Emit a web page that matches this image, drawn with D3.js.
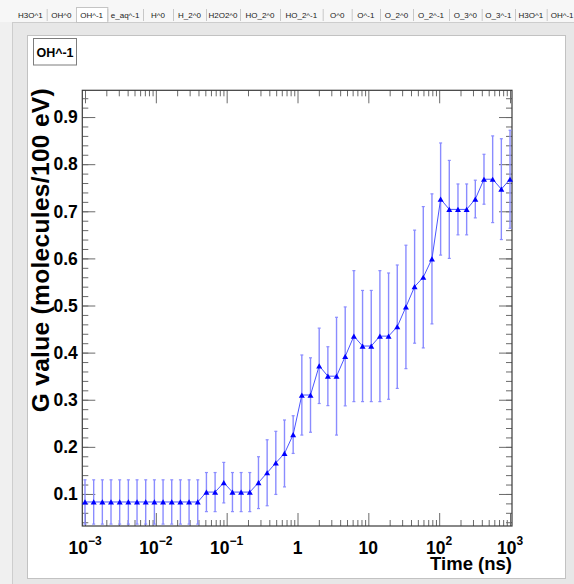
<!DOCTYPE html>
<html>
<head>
<meta charset="utf-8">
<script src="https://cdn.jsdelivr.net/npm/d3@7"></script>
<style>
  body { margin: 0; background: #efefef; }
  svg { display: block; }
</style>
</head>
<body>
<svg id="chart" width="574" height="584"></svg>
<script>
// ---- data -------------------------------------------------------------
const tabLabels = ["H3O^1", "OH^0", "OH^-1", "e_aq^-1", "H^0", "H_2^0", "H2O2^0",
  "HO_2^0", "HO_2^-1", "O^0", "O^-1", "O_2^0", "O_2^-1", "O_3^0", "O_3^-1", "H3O^1", "OH^-1"];
const selectedTab = 2;
const speciesLabel = "OH^-1";

// time points (ns)
const times = [
  0.001, 0.001326, 0.001758, 0.002330, 0.003089, 0.004095, 0.005429, 0.007197, 0.009541, 0.01265,
  0.01677, 0.02223, 0.02947, 0.03907, 0.05179, 0.06866, 0.09103, 0.1207, 0.1600, 0.2121,
  0.2812, 0.3728, 0.4942, 0.6551, 0.8685, 1.151, 1.526, 2.024, 2.683, 3.556,
  4.715, 6.251, 8.286, 10.99, 14.56, 19.31, 25.60, 33.93, 44.99, 59.64,
  79.06, 104.8, 138.9, 184.2, 244.2, 323.7, 429.1, 568.9, 754.3, 1000
];
// G value (molecules/100 eV)
const gValues = [
  0.083, 0.083, 0.083, 0.083, 0.083, 0.083, 0.083, 0.083, 0.083, 0.083,
  0.083, 0.083, 0.083, 0.083, 0.104, 0.104, 0.124, 0.104, 0.104, 0.104,
  0.124, 0.145, 0.166, 0.186, 0.226, 0.310, 0.310, 0.372, 0.350, 0.350,
  0.392, 0.435, 0.414, 0.414, 0.435, 0.435, 0.455, 0.497, 0.540, 0.560,
  0.599, 0.726, 0.704, 0.704, 0.704, 0.726, 0.768, 0.768, 0.747, 0.768
];
// symmetric uncertainties
const gErrors = [
  0.047, 0.047, 0.047, 0.047, 0.047, 0.047, 0.047, 0.047, 0.047, 0.047,
  0.047, 0.047, 0.047, 0.047, 0.0415, 0.0415, 0.043, 0.0415, 0.0415, 0.0415,
  0.055, 0.070, 0.067, 0.071, 0.040, 0.085, 0.079, 0.080, 0.0625, 0.125,
  0.105, 0.139, 0.118, 0.118, 0.139, 0.134, 0.131, 0.131, 0.120, 0.150,
  0.138, 0.119, 0.104, 0.054, 0.054, 0.040, 0.053, 0.092, 0.107, 0.104
];
const yMajorTicks = [0.1, 0.2, 0.3, 0.4, 0.5, 0.6, 0.7, 0.8, 0.9];
const yTickLabels = ["0.1", "0.2", "0.3", "0.4", "0.5", "0.6", "0.7", "0.8", "0.9"];
const xDecades = [-3, -2, -1, 0, 1, 2, 3];
const xTitle = "Time (ns)";
const yTitle = "G value (molecules/100 eV)";

// ---- layout -----------------------------------------------------------
const frame = { left: 82.3, right: 512, top: 90.3, bottom: 526 };
const svg = d3.select("#chart");
const FONT = "'Liberation Sans', Arial, Helvetica, sans-serif";

// window chrome: tab strip, grey panel, white canvas
svg.append("rect").attr("width", 574).attr("height", 584).attr("fill", "#f0f0f0");
svg.append("rect").attr("x", 0).attr("y", 0).attr("width", 574).attr("height", 22).attr("fill", "#f7f7f7");
svg.append("rect").attr("x", 12.5).attr("y", 22.5).attr("width", 570).attr("height", 570)
  .attr("fill", "#e7e7e7").attr("stroke", "#cdcdcd");

// tabs
const tabSeps = [14, 46.7, 76, 107.3, 143, 173, 206, 240, 280, 322.7, 351.7, 380, 413, 449, 481.7, 515, 546.7, 600];
const tabs = svg.append("g");
tabs.append("rect").attr("x", tabSeps[selectedTab] + 0.5).attr("y", 7.5)
  .attr("width", tabSeps[selectedTab + 1] - tabSeps[selectedTab]).attr("height", 15)
  .attr("fill", "#ffffff").attr("stroke", "#c4c4c4");
tabs.selectAll("line.sep").data(tabSeps.slice(1, -1)).join("line")
  .attr("class", "sep")
  .attr("x1", d => d + 0.5).attr("x2", d => d + 0.5)
  .attr("y1", 9).attr("y2", 21)
  .attr("stroke", "#c8c8c8");
tabs.selectAll("text").data(tabLabels).join("text")
  .attr("x", (d, i) => i === tabLabels.length - 1 ? tabSeps[i] + 4 : (tabSeps[i] + tabSeps[i + 1]) / 2)
  .attr("y", 17.8)
  .attr("text-anchor", (d, i) => i === tabLabels.length - 1 ? "start" : "middle")
  .attr("font-family", FONT).attr("font-size", 8).attr("fill", "#1a1a1a")
  .text(d => d);

// white canvas
svg.append("rect").attr("x", 27.5).attr("y", 35.5).attr("width", 538).attr("height", 543)
  .attr("fill", "#ffffff").attr("stroke", "#c2c2c2");

// legend box
svg.append("rect").attr("x", 33.5).attr("y", 38.5).attr("width", 43).attr("height", 26.5)
  .attr("fill", "#fff").attr("stroke", "#7d7d7d");
svg.append("text").attr("x", 55).attr("y", 56.5).attr("text-anchor", "middle")
  .attr("font-family", FONT).attr("font-weight", "bold").attr("font-size", 12.5)
  .attr("fill", "#000").text(speciesLabel);

// ---- scales -----------------------------------------------------------
const x = d3.scaleLog()
  .domain([Math.pow(10, -3.038), Math.pow(10, 3.028)])
  .range([frame.left, frame.right]);
const y = d3.scaleLinear()
  .domain([0.032, 0.9568])
  .range([frame.bottom, frame.top]);

const xMajor = xDecades.map(e => Math.pow(10, e));
const xMinor = [];
xDecades.forEach(e => { for (let m = 2; m <= 9; m++) { const v = m * Math.pow(10, e); if (v <= x.domain()[1]) xMinor.push(v); } });
const yMinor = d3.range(2, 48).map(k => k * 0.02).filter(v => v > y.domain()[0] && v < y.domain()[1]);

const TICK = "#6a6a6a";
function styleAxis(g) {
  g.select(".domain").remove();
  g.selectAll(".tick line").attr("stroke", TICK).attr("stroke-width", 1);
  g.selectAll(".tick text").remove();
}

// inward ticks on all four sides
const ax = svg.append("g");
ax.append("g").attr("transform", `translate(0,${frame.bottom})`)
  .call(d3.axisBottom(x).tickValues(xMajor).tickSize(-13).tickSizeOuter(0)).call(styleAxis);
ax.append("g").attr("transform", `translate(0,${frame.bottom})`)
  .call(d3.axisBottom(x).tickValues(xMinor).tickSize(-6).tickSizeOuter(0)).call(styleAxis);
ax.append("g").attr("transform", `translate(0,${frame.top})`)
  .call(d3.axisTop(x).tickValues(xMajor).tickSize(-13).tickSizeOuter(0)).call(styleAxis);
ax.append("g").attr("transform", `translate(0,${frame.top})`)
  .call(d3.axisTop(x).tickValues(xMinor).tickSize(-6).tickSizeOuter(0)).call(styleAxis);
ax.append("g").attr("transform", `translate(${frame.left},0)`)
  .call(d3.axisLeft(y).tickValues(yMajorTicks).tickSize(-13).tickSizeOuter(0)).call(styleAxis);
ax.append("g").attr("transform", `translate(${frame.left},0)`)
  .call(d3.axisLeft(y).tickValues(yMinor).tickSize(-6).tickSizeOuter(0)).call(styleAxis);
ax.append("g").attr("transform", `translate(${frame.right},0)`)
  .call(d3.axisRight(y).tickValues(yMajorTicks).tickSize(-13).tickSizeOuter(0)).call(styleAxis);
ax.append("g").attr("transform", `translate(${frame.right},0)`)
  .call(d3.axisRight(y).tickValues(yMinor).tickSize(-6).tickSizeOuter(0)).call(styleAxis);

// frame
svg.append("rect")
  .attr("x", frame.left).attr("y", frame.top)
  .attr("width", frame.right - frame.left).attr("height", frame.bottom - frame.top)
  .attr("fill", "none").attr("stroke", "#3a3a3a").attr("stroke-width", 1.2);

// y tick labels
svg.append("g").selectAll("text").data(yMajorTicks).join("text")
  .attr("x", frame.left - 4.5).attr("y", d => y(d)).attr("dy", "0.36em")
  .attr("text-anchor", "end")
  .attr("font-family", FONT).attr("font-weight", "bold").attr("font-size", 17.5)
  .text((d, i) => yTickLabels[i]);

// x tick labels (powers of ten)
const xl = svg.append("g").selectAll("text").data(xDecades).join("text")
  .attr("x", d => x(Math.pow(10, d)))
  .attr("y", 553.5)
  .attr("text-anchor", "middle")
  .attr("font-family", FONT).attr("font-weight", "bold").attr("font-size", 17.5);
xl.each(function (e) {
  const t = d3.select(this);
  if (e === 0) { t.text("1"); return; }
  if (e === 1) { t.text("10"); return; }
  t.append("tspan").text("10");
  t.append("tspan").attr("dy", -8.5).attr("font-size", 12)
    .text(e < 0 ? "\u2212" + (-e) : String(e));
});

// axis titles
svg.append("text").attr("x", frame.right).attr("y", 570)
  .attr("text-anchor", "end")
  .attr("font-family", FONT).attr("font-weight", "bold").attr("font-size", 18.5)
  .text(xTitle);
svg.append("text")
  .attr("transform", `translate(49,${frame.top - 2}) rotate(-90)`)
  .attr("text-anchor", "end")
  .attr("font-family", FONT).attr("font-weight", "bold").attr("font-size", 24.5)
  .attr("textLength", 324).attr("lengthAdjust", "spacing")
  .text(yTitle);

// ---- series -----------------------------------------------------------
const pts = times.map((t, i) => ({ t, v: gValues[i], e: gErrors[i] }));
const plot = svg.append("g");
const BAR = "#8a8cff";

// error bars
const eb = plot.append("g").selectAll("g").data(pts).join("g");
eb.append("line")
  .attr("x1", d => x(d.t)).attr("x2", d => x(d.t))
  .attr("y1", d => y(d.v - d.e)).attr("y2", d => y(d.v + d.e))
  .attr("stroke", BAR).attr("stroke-width", 1.4);
eb.append("line")
  .attr("x1", d => x(d.t) - 1.5).attr("x2", d => x(d.t) + 1.5)
  .attr("y1", d => y(d.v + d.e)).attr("y2", d => y(d.v + d.e))
  .attr("stroke", BAR).attr("stroke-width", 1.2);
eb.append("line")
  .attr("x1", d => x(d.t) - 1.5).attr("x2", d => x(d.t) + 1.5)
  .attr("y1", d => y(d.v - d.e)).attr("y2", d => y(d.v - d.e))
  .attr("stroke", BAR).attr("stroke-width", 1.2);

// connecting line
plot.append("path").datum(pts)
  .attr("d", d3.line().x(d => x(d.t)).y(d => y(d.v)))
  .attr("fill", "none").attr("stroke", "#4a55ff").attr("stroke-width", 1);

// triangle markers
const tw = 6, th = 5.2;
plot.append("g").selectAll("path").data(pts).join("path")
  .attr("transform", d => `translate(${x(d.t)},${y(d.v)})`)
  .attr("d", `M0,${-th / 2}L${tw / 2},${th / 2}L${-tw / 2},${th / 2}Z`)
  .attr("fill", "#0000ff");
</script>
</body>
</html>
